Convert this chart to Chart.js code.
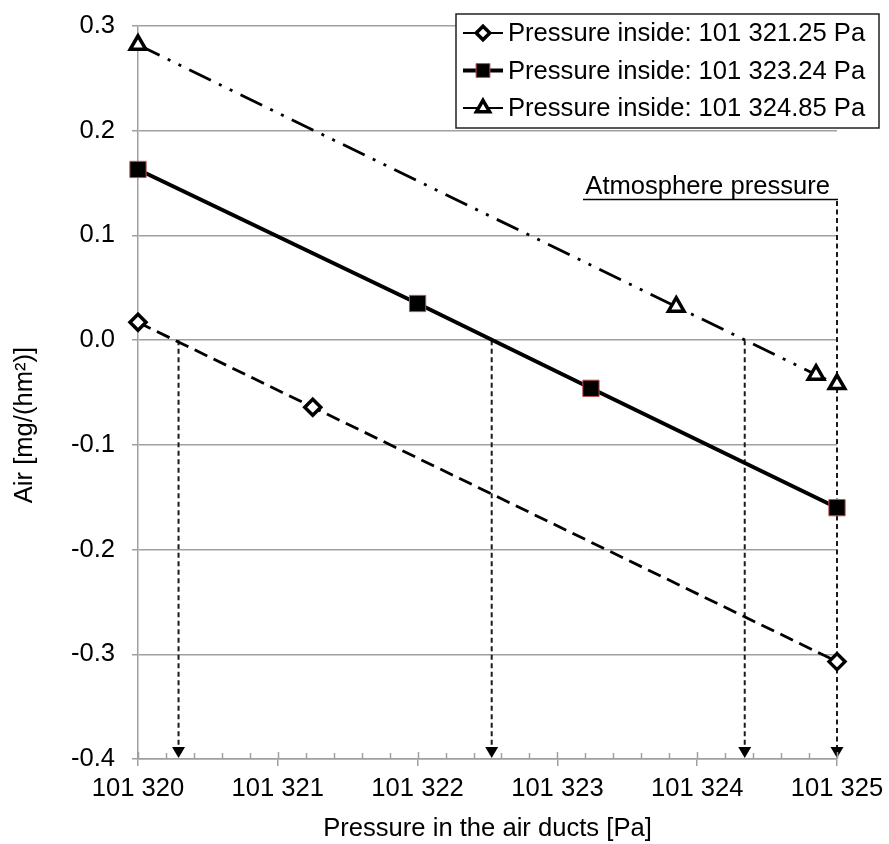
<!DOCTYPE html>
<html>
<head>
<meta charset="utf-8">
<script src="https://cdn.jsdelivr.net/npm/chart.js@4/dist/chart.umd.min.js"></script>
<style>
  html, body { margin: 0; padding: 0; background: #fff; }
  #chart { display: block; }
</style>
</head>
<body>
<canvas id="chart" width="889" height="844"></canvas>
<script>
// data
const seriesNames = ['Pressure inside: 101 321.25 Pa', 'Pressure inside: 101 323.24 Pa', 'Pressure inside: 101 324.85 Pa'];
const xs1 = [101320, 101321.25, 101325];
const ys1 = [0.017, -0.064, -0.307];
const xs2 = [101320, 101322, 101323.24, 101325];
const ys2 = [0.163, 0.035, -0.046, -0.160];
const xs3 = [101320, 101323.85, 101324.85, 101325];
const ys3 = [0.282, 0.032, -0.033, -0.042];
const zeroCrossings = [101320.29, 101322.53, 101324.34];
const atmospherePressure = 101325;
const atmosphereLabel = 'Atmosphere pressure';
const xMin = 101320, xMax = 101325, xMinorStep = 0.2;
const yMin = -0.4, yMax = 0.3, yStep = 0.1;
const xTitle = 'Pressure in the air ducts [Pa]';
const yTitle = 'Air [mg/(hm\u00B2)]';

const FONT = '"Liberation Sans", Arial, sans-serif';
const FSIZE = 25.6;
const GRID = '#a0a0a0';

function pts(xs, ys) { return xs.map((x, i) => ({ x: x, y: ys[i] })); }
function fmtPa(v) { return String(v).replace(/(\d{3})$/, ' $1'); }

// dashed arrow down to the x axis
function arrow(ctx, x, yTop, yBottom) {
    ctx.save();
    ctx.strokeStyle = '#1a1a1a';
    ctx.lineWidth = 2;
    ctx.setLineDash([5, 3.5]);
    ctx.beginPath();
    ctx.moveTo(x, yTop);
    ctx.lineTo(x, yBottom - 10);
    ctx.stroke();
    ctx.setLineDash([]);
    ctx.fillStyle = '#000';
    ctx.beginPath();
    ctx.moveTo(x - 6.5, yBottom - 12);
    ctx.lineTo(x + 6.5, yBottom - 12);
    ctx.lineTo(x, yBottom - 1);
    ctx.closePath();
    ctx.fill();
    ctx.restore();
}

const annotations = {
    id: 'annotations',
    beforeDatasetsDraw(chart) {
        const ctx = chart.ctx, x = chart.scales.x, y = chart.scales.y;
        const y0 = y.getPixelForValue(0);
        zeroCrossings.forEach(v => arrow(ctx, x.getPixelForValue(v), y0, chart.chartArea.bottom));

        // atmosphere pressure label + line
        const xa = x.getPixelForValue(atmospherePressure);
        ctx.save();
        ctx.font = FSIZE + 'px ' + FONT;
        ctx.fillStyle = '#000';
        ctx.textBaseline = 'alphabetic';
        ctx.textAlign = 'right';
        ctx.fillText(atmosphereLabel, xa - 7, 194);
        ctx.strokeStyle = '#000';
        ctx.lineWidth = 1.5;
        ctx.beginPath();
        ctx.moveTo(xa - 254, 199.5);
        ctx.lineTo(xa + 1, 199.5);
        ctx.stroke();
        ctx.restore();
        arrow(ctx, xa, 201, chart.chartArea.bottom);
    },
    afterDraw(chart) {
        const ctx = chart.ctx, x = chart.scales.x, a = chart.chartArea;

        // minor ticks on the x axis
        ctx.save();
        ctx.strokeStyle = GRID;
        ctx.lineWidth = 1.5;
        ctx.beginPath();
        for (let v = xMin; v <= xMax + 1e-9; v += xMinorStep) {
            const px = Math.round(x.getPixelForValue(v)) + 0.5;
            const major = Math.abs(v - Math.round(v)) < 1e-6;
            ctx.moveTo(px, a.bottom - (major ? 7 : 6));
            ctx.lineTo(px, a.bottom);
        }
        ctx.stroke();

        // y title
        ctx.translate(25, 425);
        ctx.rotate(-Math.PI / 2);
        ctx.font = FSIZE + 'px ' + FONT;
        ctx.fillStyle = '#000';
        ctx.textAlign = 'center';
        ctx.textBaseline = 'middle';
        ctx.fillText(yTitle, 0, 0);
        ctx.restore();

        // legend box
        const bx = 456, by = 14, bw = 423, bh = 114;
        ctx.save();
        ctx.fillStyle = '#fff';
        ctx.fillRect(bx, by, bw, bh);
        ctx.strokeStyle = '#222';
        ctx.lineWidth = 1.5;
        ctx.strokeRect(bx, by, bw, bh);
        chart.data.datasets.forEach((ds, i) => {
            const cy = 33 + i * 37.5;
            ctx.strokeStyle = '#000';
            ctx.lineWidth = i === 1 ? 4 : 2;
            ctx.beginPath();
            ctx.moveTo(463, cy);
            ctx.lineTo(503, cy);
            ctx.stroke();
            ctx.fillStyle = ds.pointBackgroundColor;
            ctx.strokeStyle = ds.pointBorderColor;
            ctx.lineWidth = ds.pointBorderWidth;
            Chart.helpers.drawPoint(ctx, { pointStyle: ds.pointStyle, radius: ds.pointRadius * 0.85, borderWidth: ds.pointBorderWidth, rotation: 0 }, 483, cy);
            ctx.fillStyle = '#000';
            ctx.font = FSIZE + 'px ' + FONT;
            ctx.textAlign = 'left';
            ctx.textBaseline = 'middle';
            ctx.fillText(seriesNames[i], 508, cy + 1);
        });
        ctx.restore();
    }
};

document.addEventListener('DOMContentLoaded', function() {
    Chart.defaults.font.family = FONT;
    Chart.defaults.font.size = FSIZE;
    Chart.defaults.color = '#000';

    new Chart(document.getElementById('chart'), {
        type: 'line',
        data: {
            datasets: [
                { label: seriesNames[0], data: pts(xs1, ys1), borderColor: '#000', borderWidth: 2.8, borderDash: [14, 7], clip: false,
                  pointStyle: 'rectRot', pointRadius: 8, pointBorderWidth: 3.5, pointBackgroundColor: '#fff', pointBorderColor: '#000' },
                { label: seriesNames[1], data: pts(xs2, ys2), borderColor: '#000', borderWidth: 4, clip: false,
                  pointStyle: 'rect', pointRadius: 11.5, pointBorderWidth: 1, pointBackgroundColor: '#000', pointBorderColor: '#c0504d' },
                { label: seriesNames[2], data: pts(xs3, ys3), borderColor: '#000', borderWidth: 2.8, borderDash: [24, 9, 3, 9, 3, 9], clip: false,
                  pointStyle: 'triangle', pointRadius: 9, pointBorderWidth: 3.5, pointBackgroundColor: '#fff', pointBorderColor: '#000' }
            ]
        },
        options: {
            responsive: false,
            animation: false,
            layout: { padding: { left: 0, right: 52, top: 26, bottom: 0 } },
            plugins: { legend: { display: false }, tooltip: { enabled: false } },
            scales: {
                x: {
                    type: 'linear', min: xMin, max: xMax,
                    afterFit: s => { s.height = 85; s.paddingLeft = 0; s.paddingRight = 0; },
                    ticks: { stepSize: 1, maxRotation: 0, autoSkip: false, padding: 8, callback: v => fmtPa(v) },
                    grid: { drawOnChartArea: false, color: GRID, lineWidth: 1.5, tickLength: 7 },
                    border: { color: GRID, width: 1.5 },
                    title: { display: true, text: xTitle, padding: { top: 0, bottom: 0 } }
                },
                y: {
                    min: yMin, max: yMax,
                    afterFit: s => { s.width = 138; s.paddingTop = 0; s.paddingBottom = 0; },
                    ticks: { stepSize: yStep, padding: 17, callback: v => (Math.abs(v) < 1e-9 ? 0 : v).toFixed(1) },
                    grid: { color: GRID, lineWidth: 1.5, tickLength: 6 },
                    border: { color: GRID, width: 1.5 }
                }
            }
        },
        plugins: [annotations]
    });
});
</script>
</body>
</html>
